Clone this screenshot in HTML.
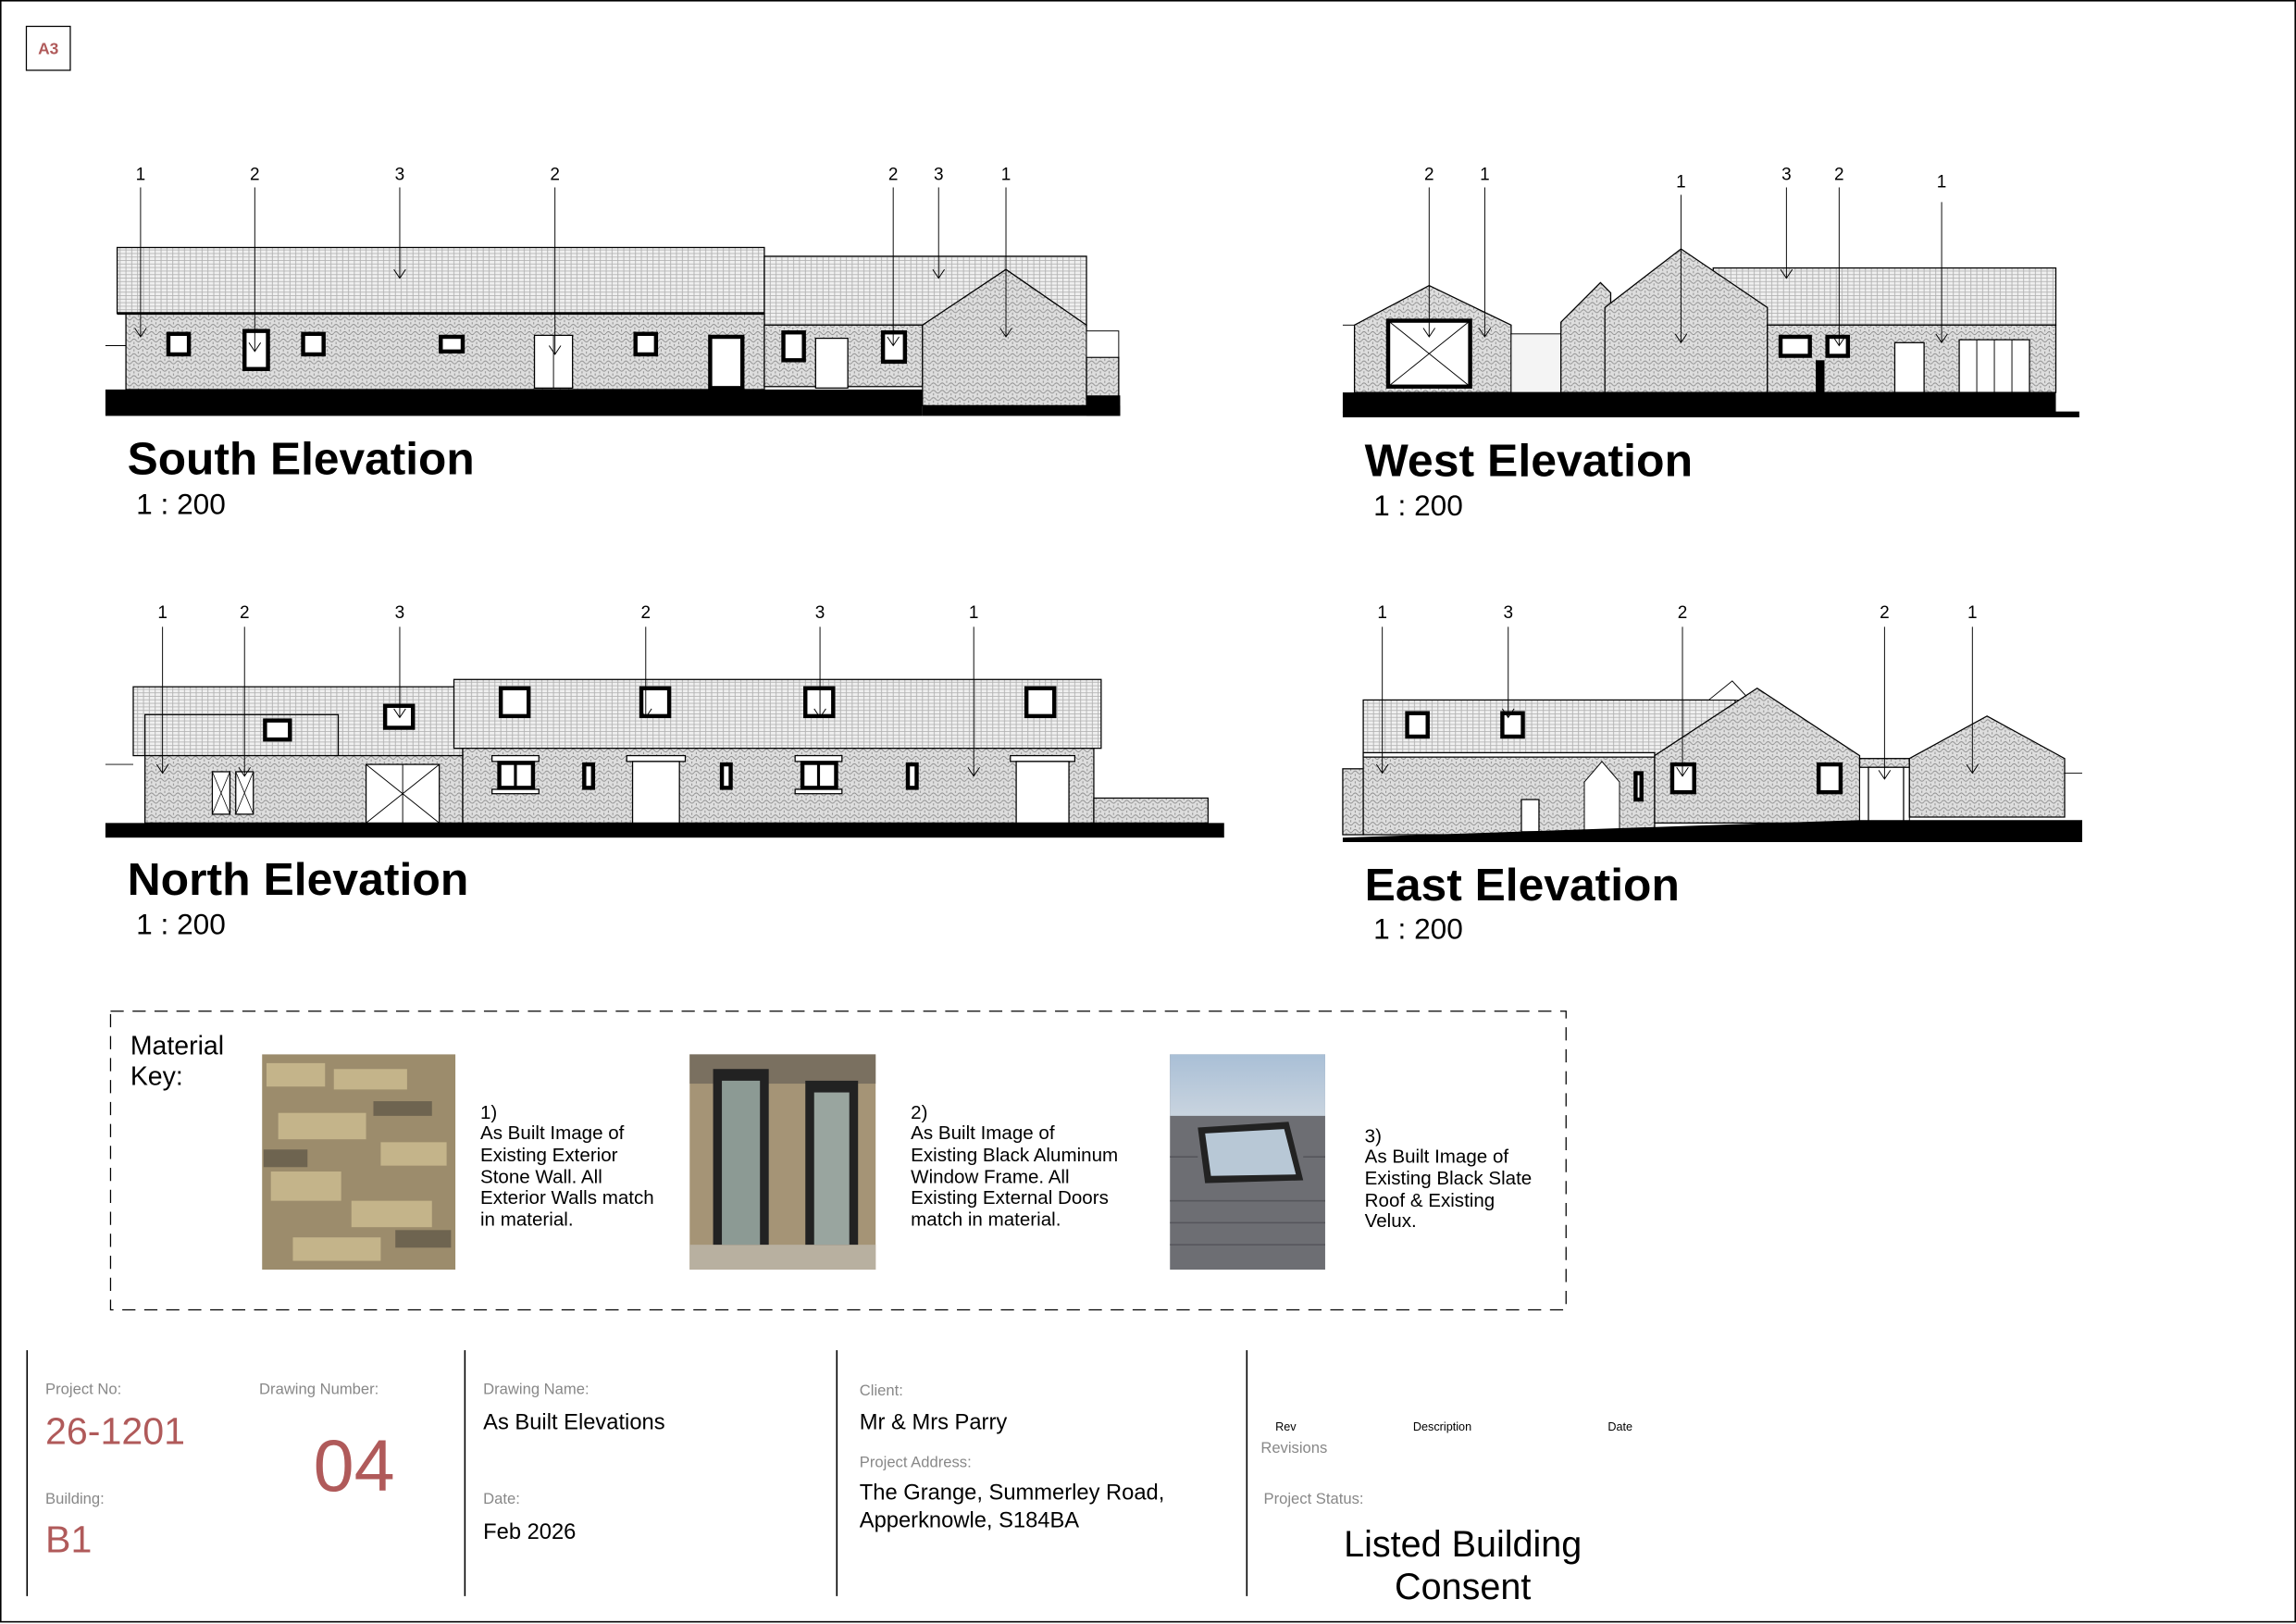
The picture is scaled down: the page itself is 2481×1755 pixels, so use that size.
<!DOCTYPE html>
<html><head><meta charset="utf-8"><style>
html,body{margin:0;padding:0;background:#fff}
svg{display:block}
text{font-family:"Liberation Sans",Arial,sans-serif}
</style></head><body>
<svg width="2481" height="1755" viewBox="0 0 1568 1109" preserveAspectRatio="none" xmlns="http://www.w3.org/2000/svg">
<defs>
<pattern id="st" width="6" height="5" patternUnits="userSpaceOnUse">
<rect width="6" height="5" fill="#dedede"/>
<path d="M0 2.5 Q1.5 0.5 3 2.5 T6 2.5 M1.5 5 L1.5 3.5 M4.5 0 L4.5 1.5" stroke="#8a8a8a" stroke-width="0.6" fill="none"/>
</pattern>
<pattern id="rf" width="4" height="2.4" patternUnits="userSpaceOnUse">
<rect width="4" height="2.4" fill="#f0f0f0"/>
<path d="M0 0.3 H4 M2 0.3 V2.4" stroke="#a8a8a8" stroke-width="0.5"/>
</pattern>
<linearGradient id="sky" x1="0" y1="0" x2="0" y2="1"><stop offset="0" stop-color="#a9bfd6"/><stop offset="1" stop-color="#c9d4df"/></linearGradient>
</defs>
<style>
.w{fill:url(#st);stroke:#000;stroke-width:0.8}
.r{fill:url(#rf);stroke:#000;stroke-width:0.8}
.win{fill:#fff;stroke:#000;stroke-width:2.8}
.dr{fill:#fff;stroke:#000;stroke-width:0.8}
.cl{stroke:#000;stroke-width:0.6;fill:none}
.lb{font-size:12px}
</style>
<rect x="0.5" y="0.5" width="1567" height="1107" fill="none" stroke="#000" stroke-width="1"/>
<rect x="18" y="18" width="30" height="30" fill="none" stroke="#000" stroke-width="0.8"/>
<text x="33" y="37" font-size="11" font-weight="bold" fill="#b05a5a" text-anchor="middle">A3</text>

<!-- SOUTH -->
<rect class="r" x="80" y="169" width="442" height="45"/>
<rect class="r" x="522" y="175" width="220" height="47"/>
<rect class="w" x="86" y="214" width="436" height="52"/>
<line x1="80" y1="214" x2="522" y2="214" stroke="#000" stroke-width="1.8"/>
<rect class="w" x="522" y="222" width="108" height="42"/>
<polygon class="w" points="630,222 687,184 742,222 742,277 630,277"/>
<rect class="w" x="742" y="244" width="22" height="28"/>
<rect x="742" y="226" width="22" height="18" fill="#fff" stroke="#000" stroke-width="0.6"/>
<line x1="72" y1="236" x2="86" y2="236" stroke="#000" stroke-width="0.6"/>
<rect x="72" y="266" width="558" height="18" fill="#000"/>
<rect x="630" y="277" width="135" height="7" fill="#000"/>
<rect x="742" y="270" width="23" height="14" fill="#000"/>
<rect class="win" x="115" y="228" width="14" height="14"/>
<rect class="win" x="167" y="226" width="16" height="26"/>
<rect class="win" x="207" y="228" width="14" height="14"/>
<rect class="win" x="301" y="230" width="15" height="10"/>
<rect class="dr" x="365" y="229" width="26" height="36"/><line x1="378" y1="229" x2="378" y2="265" stroke="#000" stroke-width="0.6"/>
<rect class="win" x="434" y="228" width="14" height="14"/>
<rect class="win" x="485" y="230" width="22" height="35"/>
<rect class="win" x="535" y="227" width="14" height="19"/>
<rect class="dr" x="557" y="231" width="22" height="34"/>
<rect class="win" x="603" y="227" width="15" height="20"/>
<g class="cl">
<path d="M96 128V230M92 224L96 230L100 224"/><path d="M174 128V240M170 234L174 240L178 234"/>
<path d="M273 128V190M269 184L273 190L277 184"/><path d="M379 128V242M375 236L379 242L383 236"/>
<path d="M610 128V236M606 230L610 236L614 230"/><path d="M641 128V190M637 184L641 190L645 184"/>
<path d="M687 128V230M683 224L687 230L691 224"/>
</g>
<g class="lb" text-anchor="middle"><text x="96" y="123">1</text><text x="174" y="123">2</text><text x="273" y="123">3</text><text x="379" y="123">2</text><text x="610" y="123">2</text><text x="641" y="123">3</text><text x="687" y="123">1</text></g>
<text x="87" y="324" font-size="31" font-weight="bold" textLength="237" lengthAdjust="spacingAndGlyphs">South Elevation</text>
<text x="93" y="351" font-size="20">1 : 200</text>

<!-- WEST -->
<polygon class="w" points="925,222 976,195 1032,222 1032,268 925,268"/>
<rect class="win" x="948" y="219" width="56" height="45" stroke-width="1"/>
<path d="M948 219L1004 264M1004 219L948 264" stroke="#000" stroke-width="0.6"/>
<rect x="1032" y="228" width="34" height="40" fill="#f4f4f4" stroke="#000" stroke-width="0.6"/>
<rect class="r" x="1170" y="183" width="234" height="39"/>
<polygon class="w" points="1066,220 1093,193 1100,200 1100,268 1066,268"/>
<polygon class="w" points="1096,210 1148,170 1207,210 1207,268 1096,268"/>
<rect class="w" x="1207" y="222" width="197" height="46"/>
<line x1="917" y1="222" x2="925" y2="222" stroke="#000" stroke-width="0.6"/>
<rect class="win" x="1216" y="230" width="20" height="13"/>
<rect class="win" x="1248" y="230" width="14" height="13"/>
<rect x="1240" y="246" width="6" height="22" fill="#000"/>
<rect class="dr" x="1294" y="234" width="20" height="34"/>
<rect class="dr" x="1338" y="232" width="48" height="36"/><path d="M1350 232V268M1362 232V268M1374 232V268" stroke="#000" stroke-width="0.6"/>
<rect x="917" y="268" width="487" height="14" fill="#000"/>
<rect x="917" y="281" width="503" height="4" fill="#000"/>
<g class="cl">
<path d="M976 128V230M972 224L976 230L980 224"/><path d="M1014 128V230M1010 224L1014 230L1018 224"/>
<path d="M1148 133V234M1144 228L1148 234L1152 228"/><path d="M1220 128V190M1216 184L1220 190L1224 184"/>
<path d="M1256 128V236M1252 230L1256 236L1260 230"/><path d="M1326 138V234M1322 228L1326 234L1330 228"/>
</g>
<g class="lb" text-anchor="middle"><text x="976" y="123">2</text><text x="1014" y="123">1</text><text x="1148" y="128">1</text><text x="1220" y="123">3</text><text x="1256" y="123">2</text><text x="1326" y="128">1</text></g>
<text x="932" y="325" font-size="31" font-weight="bold" textLength="224" lengthAdjust="spacingAndGlyphs">West Elevation</text>
<text x="938" y="352" font-size="20">1 : 200</text>

<!-- NORTH -->
<rect class="r" x="91" y="469" width="225" height="47"/>
<rect class="r" x="99" y="488" width="132" height="28"/>
<rect class="r" x="310" y="464" width="442" height="47"/>
<rect class="w" x="99" y="516" width="217" height="46"/>
<rect class="w" x="316" y="511" width="431" height="51"/>
<rect class="w" x="747" y="545" width="78" height="17"/>
<line x1="72" y1="522" x2="91" y2="522" stroke="#000" stroke-width="0.6"/>
<rect x="72" y="562" width="764" height="10" fill="#000"/>
<rect class="win" x="181" y="492" width="17" height="13"/>
<rect class="win" x="263" y="482" width="19" height="15"/>
<rect class="win" x="342" y="470" width="19" height="19"/>
<rect class="win" x="438" y="470" width="19" height="19"/>
<rect class="win" x="550" y="470" width="19" height="19"/>
<rect class="win" x="701" y="470" width="19" height="19"/>
<rect class="dr" x="145" y="527" width="12" height="29"/><rect class="dr" x="161" y="527" width="12" height="29"/>
<path d="M145 527L157 556M157 527L145 556M161 527L173 556M173 527L161 556" stroke="#000" stroke-width="0.5"/>
<rect class="dr" x="250" y="522" width="50" height="40"/><path d="M250 522L300 562M300 522L250 562M275 522V562" stroke="#000" stroke-width="0.6"/>
<g fill="#fff" stroke="#000" stroke-width="0.8"><rect x="336" y="516" width="32" height="4"/><rect x="428" y="516" width="40" height="4"/><rect x="543" y="516" width="32" height="4"/><rect x="690" y="516" width="44" height="4"/><rect x="336" y="539" width="32" height="3"/><rect x="543" y="539" width="32" height="3"/></g>
<rect class="win" x="341" y="521" width="23" height="17"/><line x1="352" y1="521" x2="352" y2="538" stroke="#000" stroke-width="2"/>
<rect class="win" x="399" y="522" width="6" height="16"/>
<rect class="dr" x="432" y="520" width="32" height="42"/>
<rect class="win" x="493" y="522" width="6" height="16"/>
<rect class="win" x="548" y="521" width="23" height="17"/><line x1="559" y1="521" x2="559" y2="538" stroke="#000" stroke-width="2"/>
<rect class="win" x="620" y="522" width="6" height="16"/>
<rect class="dr" x="694" y="520" width="36" height="42"/>
<g class="cl">
<path d="M111 428V528M107 522L111 528L115 522"/><path d="M167 428V530M163 524L167 530L171 524"/>
<path d="M273 428V490M269 484L273 490L277 484"/><path d="M441 428V490M437 484L441 490L445 484"/>
<path d="M560 428V490M556 484L560 490L564 484"/><path d="M665 428V530M661 524L665 530L669 524"/>
</g>
<g class="lb" text-anchor="middle"><text x="111" y="422">1</text><text x="167" y="422">2</text><text x="273" y="422">3</text><text x="441" y="422">2</text><text x="560" y="422">3</text><text x="665" y="422">1</text></g>
<text x="87" y="611" font-size="31" font-weight="bold" textLength="233" lengthAdjust="spacingAndGlyphs">North Elevation</text>
<text x="93" y="638" font-size="20">1 : 200</text>

<!-- EAST -->
<rect class="r" x="931" y="478" width="254" height="38"/>
<polygon fill="#fff" stroke="#000" stroke-width="0.6" points="1167,478 1183,465 1195,478"/>
<rect x="917" y="525" width="14" height="45" class="w"/>
<rect class="w" x="931" y="516" width="199" height="54"/>
<rect x="931" y="514" width="199" height="3" fill="#fff" stroke="#000" stroke-width="0.8"/>
<polygon class="w" points="1130,516 1200,470 1270,516 1270,562 1130,562"/>
<rect x="1270" y="518" width="34" height="44" fill="#fff" stroke="#000" stroke-width="0.6"/>
<rect class="w" x="1270" y="518" width="34" height="6"/>
<polygon class="w" points="1304,518 1357,489 1410,518 1410,558 1304,558"/>
<line x1="1410" y1="528" x2="1422" y2="528" stroke="#000" stroke-width="0.6"/>
<polygon fill="#fff" stroke="#000" stroke-width="0.6" points="1082,534 1094,520 1106,534 1106,568 1082,568"/>
<rect class="dr" x="1039" y="546" width="12" height="22"/>
<rect class="win" x="961" y="487" width="14" height="16"/>
<rect class="win" x="1026" y="487" width="14" height="16"/>
<rect class="win" x="1142" y="522" width="15" height="19"/>
<rect class="win" x="1242" y="522" width="15" height="19"/>
<rect class="win" x="1117" y="528" width="4" height="18" stroke-width="1.5"/>
<rect class="dr" x="1276" y="524" width="24" height="38"/>
<polygon fill="#000" points="917,572 1270,560 1422,560 1422,575 917,575"/>
<g class="cl">
<path d="M944 428V528M940 522L944 528L948 522"/><path d="M1030 428V490M1026 484L1030 490L1034 484"/>
<path d="M1149 428V530M1145 524L1149 530L1153 524"/><path d="M1287 428V532M1283 526L1287 532L1291 526"/>
<path d="M1347 428V528M1343 522L1347 528L1351 522"/>
</g>
<g class="lb" text-anchor="middle"><text x="944" y="422">1</text><text x="1030" y="422">3</text><text x="1149" y="422">2</text><text x="1287" y="422">2</text><text x="1347" y="422">1</text></g>
<text x="932" y="615" font-size="31" font-weight="bold" textLength="215" lengthAdjust="spacingAndGlyphs">East Elevation</text>
<text x="938" y="641" font-size="20">1 : 200</text>

<!-- MATERIAL KEY -->
<rect x="75.5" y="690.5" width="994" height="204" fill="none" stroke="#000" stroke-width="0.8" stroke-dasharray="9,6"/>
<text x="89" y="720" font-size="18">Material</text>
<text x="89" y="741" font-size="18">Key:</text>
<rect x="179" y="720" width="132" height="147" fill="#9c8c6c"/>
<g fill="#c4b48a"><rect x="182" y="726" width="40" height="16"/><rect x="228" y="730" width="50" height="14"/><rect x="190" y="760" width="60" height="18"/><rect x="260" y="780" width="45" height="16"/><rect x="185" y="800" width="48" height="20"/><rect x="240" y="820" width="55" height="18"/><rect x="200" y="845" width="60" height="16"/></g>
<g fill="#6e6450"><rect x="180" y="785" width="30" height="12"/><rect x="255" y="752" width="40" height="10"/><rect x="270" y="840" width="38" height="12"/></g>
<rect x="471" y="720" width="127" height="147" fill="#a59476"/>
<rect x="471" y="720" width="127" height="20" fill="#7a7060"/>
<rect x="487" y="730" width="38" height="128" fill="#222"/><rect x="493" y="738" width="26" height="112" fill="#8c9a94"/>
<rect x="550" y="738" width="36" height="120" fill="#222"/><rect x="556" y="746" width="24" height="104" fill="#99a59f"/>
<rect x="471" y="850" width="127" height="17" fill="#b8b0a0"/>
<rect x="799" y="720" width="106" height="147" fill="#6d6e73"/>
<rect x="799" y="720" width="106" height="42" fill="url(#sky)"/>
<polygon points="818,770 880,766 890,806 823,808" fill="#222"/>
<polygon points="823,774 877,771 885,802 827,803" fill="#b8c8d6"/>
<g stroke="#55565b" stroke-width="1"><path d="M799 820H905M799 835H905M799 850H905M799 790H818M890 790H905"/></g>
<g font-size="13">
<text x="328" y="764">1)</text><text x="328" y="778">As Built Image of</text><text x="328" y="793">Existing Exterior</text><text x="328" y="808">Stone Wall. All</text><text x="328" y="822">Exterior Walls match</text><text x="328" y="837">in material.</text>
<text x="622" y="764">2)</text><text x="622" y="778">As Built Image of</text><text x="622" y="793">Existing Black Aluminum</text><text x="622" y="808">Window Frame. All</text><text x="622" y="822">Existing External Doors</text><text x="622" y="837">match in material.</text>
<text x="932" y="780">3)</text><text x="932" y="794">As Built Image of</text><text x="932" y="809">Existing Black Slate</text><text x="932" y="824">Roof &amp; Existing</text><text x="932" y="838">Velux.</text>
</g>

<!-- TITLE BLOCK -->
<g stroke="#000" stroke-width="1"><line x1="18.5" y1="922" x2="18.5" y2="1090"/><line x1="317.5" y1="922" x2="317.5" y2="1090"/><line x1="571.5" y1="922" x2="571.5" y2="1090"/><line x1="851.5" y1="922" x2="851.5" y2="1090"/></g>
<g fill="#888" font-size="10.5">
<text x="31" y="952">Project No:</text><text x="177" y="952">Drawing Number:</text><text x="31" y="1027">Building:</text>
<text x="330" y="952">Drawing Name:</text><text x="330" y="1027">Date:</text>
<text x="587" y="953">Client:</text><text x="587" y="1002">Project Address:</text>
<text x="861" y="992">Revisions</text><text x="863" y="1027">Project Status:</text>
</g>
<g font-size="8"><text x="871" y="977">Rev</text><text x="965" y="977">Description</text><text x="1098" y="977">Date</text></g>
<g fill="#b05a5a"><text x="31" y="986" font-size="26">26-1201</text><text x="214" y="1018" font-size="50">04</text><text x="31" y="1060" font-size="26">B1</text></g>
<g font-size="15"><text x="330" y="976">As Built Elevations</text><text x="330" y="1051">Feb 2026</text><text x="587" y="976">Mr &amp; Mrs Parry</text><text x="587" y="1024">The Grange, Summerley Road,</text><text x="587" y="1043">Apperknowle, S184BA</text></g>
<g font-size="25" text-anchor="middle"><text x="999" y="1063">Listed Building</text><text x="999" y="1092">Consent</text></g>
</svg>
</body></html>
